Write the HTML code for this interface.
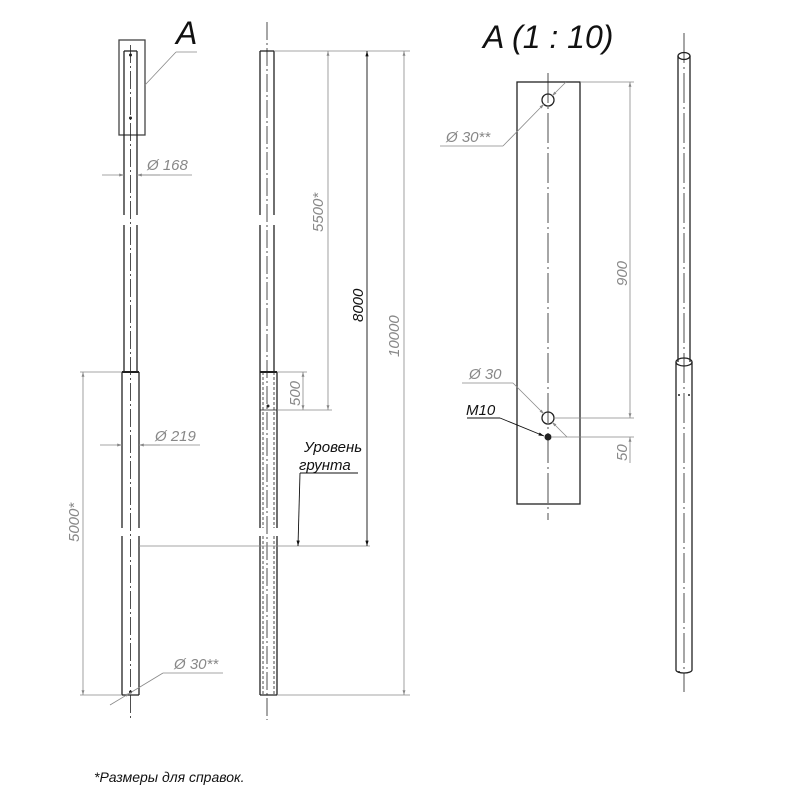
<!DOCTYPE html>
<html><head><meta charset="utf-8"><style>body{margin:0;background:#fff}svg{display:block}text{font-family:"Liberation Sans",sans-serif;font-style:italic}</style></head><body>
<svg width="800" height="800" viewBox="0 0 800 800" xmlns="http://www.w3.org/2000/svg">
<defs>
<marker id="a" viewBox="0 0 10 10" refX="10" refY="5" markerWidth="8" markerHeight="6" orient="auto-start-reverse"><path d="M0,2 L10,5 L0,8z" fill="#888"/></marker>
<marker id="b" viewBox="0 0 10 10" refX="10" refY="5" markerWidth="8" markerHeight="6" orient="auto-start-reverse"><path d="M0,2 L10,5 L0,8z" fill="#111"/></marker>
</defs>
<g stroke="#222" stroke-width="1.3" fill="none">
<rect x="119" y="40" width="26" height="95" stroke="#444"/>
<line x1="124" y1="51" x2="124" y2="215"/><line x1="137" y1="51" x2="137" y2="215"/><line x1="124" y1="51" x2="137" y2="51"/>
<line x1="124" y1="225" x2="124" y2="372"/><line x1="137" y1="225" x2="137" y2="372"/>
<line x1="122" y1="372" x2="139" y2="372" stroke-width="2"/>
<line x1="122" y1="372" x2="122" y2="528"/><line x1="139" y1="372" x2="139" y2="528"/>
<line x1="122" y1="536" x2="122" y2="695"/><line x1="139" y1="536" x2="139" y2="695"/><line x1="122" y1="695" x2="139" y2="695"/>
<line x1="130.5" y1="45" x2="130.5" y2="720" stroke-width="0.8" stroke-dasharray="18,3,2,3"/>
<line x1="267" y1="22" x2="267" y2="720" stroke-width="0.8" stroke-dasharray="18,3,2,3"/>
<line x1="260" y1="51" x2="260" y2="215"/><line x1="274" y1="51" x2="274" y2="215"/><line x1="260" y1="51" x2="274" y2="51"/>
<line x1="260" y1="225" x2="260" y2="372"/><line x1="274" y1="225" x2="274" y2="372"/>
<line x1="260" y1="372" x2="277" y2="372" stroke-width="2"/>
<line x1="260" y1="372" x2="260" y2="528"/><line x1="277" y1="372" x2="277" y2="528"/>
<line x1="263" y1="372" x2="263" y2="528" stroke-dasharray="3,2" stroke-width="0.8"/><line x1="274" y1="372" x2="274" y2="528" stroke-dasharray="3,2" stroke-width="0.8"/>
<line x1="260" y1="410" x2="277" y2="410" stroke-width="0.8"/>
<line x1="260" y1="536" x2="260" y2="695"/><line x1="277" y1="536" x2="277" y2="695"/><line x1="260" y1="695" x2="277" y2="695"/>
<line x1="263" y1="536" x2="263" y2="695" stroke-dasharray="3,2" stroke-width="0.8"/><line x1="274" y1="536" x2="274" y2="695" stroke-dasharray="3,2" stroke-width="0.8"/>
<rect x="517" y="82" width="63" height="422"/>
<line x1="548" y1="73" x2="548" y2="520" stroke-width="0.8" stroke-dasharray="30,4,2,4"/>
<circle cx="548" cy="100" r="6"/><circle cx="548" cy="418" r="6"/>
<line x1="684" y1="33" x2="684" y2="692" stroke-width="0.8" stroke-dasharray="30,4,2,4"/>
<ellipse cx="684" cy="56" rx="6" ry="3.5"/>
<line x1="678" y1="56" x2="678" y2="362"/><line x1="690" y1="56" x2="690" y2="362"/>
<ellipse cx="684" cy="362" rx="8" ry="4"/>
<line x1="676" y1="362" x2="676" y2="670"/><line x1="692" y1="362" x2="692" y2="670"/>
<path d="M676,670 A8,3 0 0 0 692,670"/>
</g>
<g fill="#222">
<circle cx="130.5" cy="55" r="1.5"/><circle cx="130.5" cy="118" r="1.5"/>
<circle cx="130.5" cy="692" r="1.5"/><circle cx="268" cy="406" r="1.5"/>
<circle cx="548" cy="437" r="3.5"/>
<circle cx="679" cy="395" r="1"/><circle cx="689" cy="395" r="1"/><circle cx="679" cy="672" r="1"/>
</g>
<g stroke="#888" stroke-width="0.8" fill="none">
<line x1="145" y1="85" x2="176" y2="52"/><line x1="176" y1="52" x2="197" y2="52"/>
<line x1="102" y1="175" x2="124" y2="175" marker-end="url(#a)"/><line x1="160" y1="175" x2="137" y2="175" marker-end="url(#a)"/><line x1="137" y1="175" x2="192" y2="175"/>
<line x1="100" y1="445" x2="122" y2="445" marker-end="url(#a)"/><line x1="160" y1="445" x2="139" y2="445" marker-end="url(#a)"/><line x1="139" y1="445" x2="200" y2="445"/>
<line x1="80" y1="372" x2="122" y2="372"/><line x1="80" y1="695" x2="122" y2="695"/>
<line x1="83" y1="372" x2="83" y2="695" marker-start="url(#a)" marker-end="url(#a)"/>
<line x1="110" y1="705" x2="130" y2="693" marker-end="url(#a)"/><line x1="130" y1="693" x2="163" y2="673"/><line x1="163" y1="673" x2="223" y2="673"/>
<line x1="139" y1="546" x2="370" y2="546"/>
<line x1="274" y1="51" x2="410" y2="51"/><line x1="277" y1="410" x2="332" y2="410"/><line x1="277" y1="372" x2="307" y2="372"/>
<line x1="277" y1="695" x2="410" y2="695"/>
<line x1="328" y1="51" x2="328" y2="410" marker-start="url(#a)" marker-end="url(#a)"/>
<line x1="404" y1="51" x2="404" y2="695" marker-start="url(#a)" marker-end="url(#a)"/>
<line x1="303" y1="372" x2="303" y2="410" marker-start="url(#a)" marker-end="url(#a)"/>
<line x1="580" y1="82" x2="634" y2="82"/><line x1="554" y1="418" x2="634" y2="418"/><line x1="551" y1="437" x2="634" y2="437"/>
<line x1="630" y1="82" x2="630" y2="418" marker-start="url(#a)" marker-end="url(#a)"/>
<line x1="630" y1="463" x2="630" y2="437" marker-end="url(#a)"/>
<line x1="566" y1="82" x2="552" y2="96" marker-end="url(#a)"/>
<line x1="440" y1="146" x2="503" y2="146"/><line x1="503" y1="146" x2="544" y2="104" marker-end="url(#a)"/>
<line x1="462" y1="383" x2="513" y2="383"/><line x1="513" y1="383" x2="544" y2="414" marker-end="url(#a)"/>
<line x1="567" y1="437" x2="552" y2="422" marker-end="url(#a)"/>
</g>
<g stroke="#111" stroke-width="0.9" fill="none">
<line x1="367" y1="51" x2="367" y2="546" marker-start="url(#b)" marker-end="url(#b)"/>
<line x1="300" y1="473" x2="358" y2="473"/><line x1="300" y1="473" x2="298" y2="546" marker-end="url(#b)"/>
<line x1="467" y1="418" x2="500" y2="418"/><line x1="500" y1="418" x2="544" y2="436" marker-end="url(#b)"/>
</g>
<g fill="#888" font-size="15">
<text x="147" y="170">Ø 168</text>
<text x="155" y="441">Ø 219</text>
<text x="174" y="669">Ø 30**</text>
<text transform="translate(79,542) rotate(-90)">5000*</text>
<text transform="translate(323,232) rotate(-90)">5500*</text>
<text transform="translate(399,357) rotate(-90)">10000</text>
<text transform="translate(300,406) rotate(-90)">500</text>
<text transform="translate(627,286) rotate(-90)">900</text>
<text transform="translate(627,461) rotate(-90)">50</text>
<text x="446" y="142">Ø 30**</text>
<text x="469" y="379">Ø 30</text>
</g>
<g fill="#111">
<text transform="translate(363,322) rotate(-90)" font-size="15">8000</text>
<text x="304" y="452" font-size="15">Уровень</text>
<text x="299" y="470" font-size="15">грунта</text>
<text x="466" y="415" font-size="15">M10</text>
<text x="176" y="44" font-size="32">A</text>
<text x="483" y="48" font-size="32">A (1 : 10)</text>
<text x="94" y="782" font-size="14">*Размеры для справок.</text>
</g>
</svg>
</body></html>
